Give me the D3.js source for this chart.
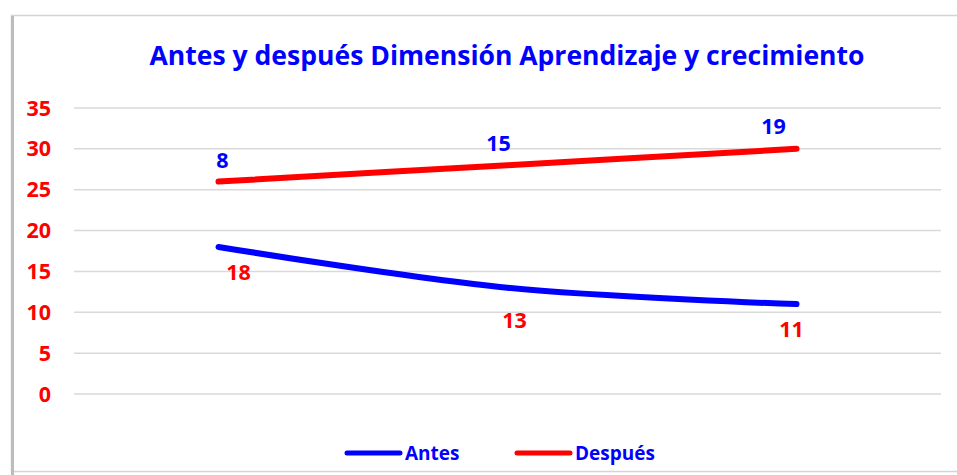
<!DOCTYPE html>
<html>
<head>
<meta charset="utf-8">
<script src="https://cdn.jsdelivr.net/npm/d3@7"></script>
<style>
  body { margin: 0; background: #fff; }
  text { font-family: "Open Sans", "Noto Sans", sans-serif; font-weight: bold; }
</style>
</head>
<body>
<div class="board"></div>
<script>
// data
var categories = ["1", "2", "3"]
var antes = [18, 13, 11]
var despues = [26, 28, 30]
// the labels shown in the picture (they don't match the line values)
var antesLabels = ["18", "13", "11"]
var despuesLabels = ["8", "15", "19"]
var yTicks = [0, 5, 10, 15, 20, 25, 30, 35]

var W = 957, H = 475
var margin = { top: 108, right: 16, bottom: 81, left: 74 }

var svg = d3.select(".board")
    .append("svg")
    .attr("width", W)
    .attr("height", H)

// chart frame with a bit of shadow on the left
svg.append("rect")
    .attr("x", 11.5).attr("y", 15.5)
    .attr("width", W).attr("height", 456)
    .attr("fill", "#fff")
    .attr("stroke", "#d4d4d4")
    .attr("stroke-width", 1.5)
svg.append("line")
    .attr("x1", 12.5).attr("x2", 12.5)
    .attr("y1", 16).attr("y2", H)
    .attr("stroke", "#bcbcbc").attr("stroke-width", 3)

let x = d3.scaleBand()
    .domain(categories)
    .range([margin.left, W - margin.right])

let y = d3.scaleLinear()
    .domain([0, 35])
    .range([H - margin.bottom, margin.top])

let cx = d => x(d) + x.bandwidth() / 2

// gridlines
svg.selectAll(".grid")
    .data(yTicks)
    .enter()
    .append("line")
    .attr("x1", margin.left)
    .attr("x2", W - margin.right)
    .attr("y1", d => y(d))
    .attr("y2", d => y(d))
    .attr("stroke", "#d9d9d9")
    .attr("stroke-width", 1.5)

// y axis labels
svg.selectAll(".ylab")
    .data(yTicks)
    .enter()
    .append("text")
    .attr("x", 51)
    .attr("y", d => y(d) + 7.5)
    .attr("text-anchor", "end")
    .attr("fill", "#ff0000")
    .attr("font-size", 21.5)
    .text(d => d)

svg.append("text")
    .attr("x", 507)
    .attr("y", 65)
    .attr("text-anchor", "middle")
    .attr("fill", "#0000ff")
    .attr("font-size", 26.5)
    .attr("textLength", 715)
    .attr("lengthAdjust", "spacingAndGlyphs")
    .text("Antes y después Dimensión Aprendizaje y crecimiento")

function drawLine(values, color, curve) {
    svg.append("path")
        .datum(values)
        .attr("fill", "none")
        .attr("stroke", color)
        .attr("stroke-width", 6)
        .attr("stroke-linecap", "round")
        .attr("d", d3.line()
            .curve(curve)
            .x((d, i) => cx(categories[i]))
            .y(d => y(d)))
}

drawLine(despues, "#ff0000", d3.curveCatmullRom.alpha(0.5))
drawLine(antes, "#0000ff", d3.curveCatmullRom.alpha(0.5))

// label nudges, the way they sit in the picture
var despuesNudge = [[4, -14], [-9, -14], [-23, -15]]
var antesNudge = [[20, 33], [7, 40], [-5, 33]]

function drawLabels(values, labels, nudge, color) {
    svg.selectAll(null)
        .data(values)
        .enter()
        .append("text")
        .attr("x", (d, i) => cx(categories[i]) + nudge[i][0])
        .attr("y", (d, i) => y(d) + nudge[i][1])
        .attr("text-anchor", "middle")
        .attr("fill", color)
        .attr("font-size", 21.5)
        .text((d, i) => labels[i])
}

drawLabels(despues, despuesLabels, despuesNudge, "#0000ff")
drawLabels(antes, antesLabels, antesNudge, "#ff0000")

// legend
var legend = [
    { name: "Antes", color: "#0000ff", x: 347 },
    { name: "Después", color: "#ff0000", x: 517 }
]
legend.forEach(l => {
    svg.append("line")
        .attr("x1", l.x).attr("x2", l.x + 53)
        .attr("y1", 453).attr("y2", 453)
        .attr("stroke", l.color)
        .attr("stroke-width", 5)
        .attr("stroke-linecap", "round")
    svg.append("text")
        .attr("x", l.x + 58)
        .attr("y", 459.5)
        .attr("fill", "#0000ff")
        .attr("font-size", 19)
        .text(l.name)
})
</script>
</body>
</html>
